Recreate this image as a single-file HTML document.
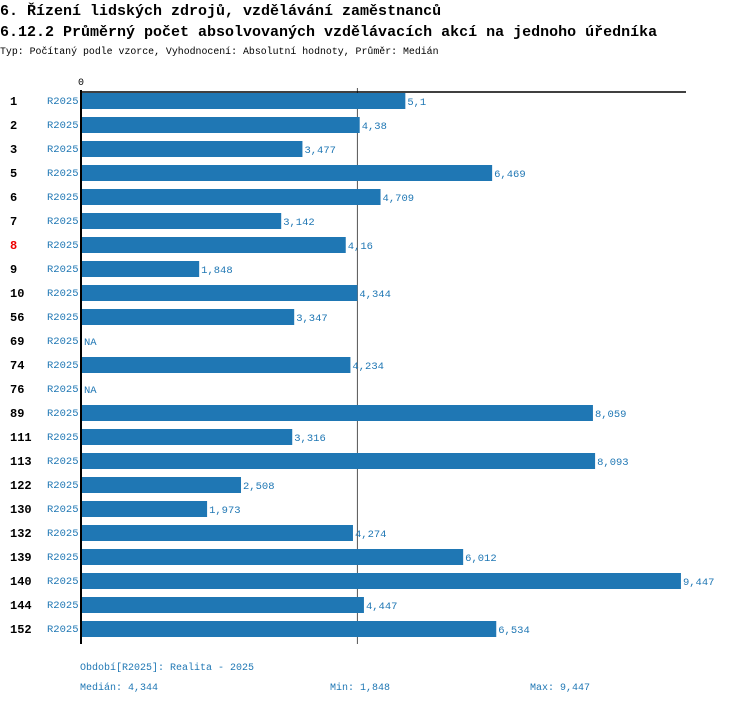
<!DOCTYPE html>
<html><head><meta charset="utf-8"><style>
body{margin:0;background:#fff;width:750px;height:704px;overflow:hidden;font-family:"Liberation Mono","DejaVu Sans Mono",monospace}
</style></head><body>
<svg width="750" height="704" font-family="Liberation Mono, DejaVu Sans Mono, monospace">
<text x="0" y="15" font-size="15" font-weight="bold" fill="#000">6. Řízení lidských zdrojů, vzdělávání zaměstnanců</text>
<text x="0" y="36" font-size="15" font-weight="bold" fill="#000">6.12.2 Průměrný počet absolvovaných vzdělávacích akcí na jednoho úředníka</text>
<text x="0" y="54" font-size="9.9" fill="#000">Typ: Počítaný podle vzorce, Vyhodnocení: Absolutní hodnoty, Průměr: Medián</text>
<text x="78" y="85" font-size="10" fill="#000">0</text>
<g id="plot"></g>
<line x1="81" y1="92" x2="686" y2="92" stroke="#000" stroke-width="1.5"/>
<line x1="81" y1="90" x2="81" y2="644" stroke="#000" stroke-width="2"/>
<text x="80" y="670" font-size="10" fill="#1f77b4">Období[R2025]: Realita - 2025</text>
<text x="80" y="690" font-size="10" fill="#1f77b4">Medián: 4,344</text>
<text x="330" y="690" font-size="10" fill="#1f77b4">Min: 1,848</text>
<text x="530" y="690" font-size="10" fill="#1f77b4">Max: 9,447</text>
</svg>
<script>
const categories=["1","2","3","5","6","7","8","9","10","56","69","74","76","89","111","113","122","130","132","139","140","144","152"];
const values=[5.1,4.38,3.477,6.469,4.709,3.142,4.16,1.848,4.344,3.347,null,4.234,null,8.059,3.316,8.093,2.508,1.973,4.274,6.012,9.447,4.447,6.534];
const valueLabels=["5,1","4,38","3,477","6,469","4,709","3,142","4,16","1,848","4,344","3,347","NA","4,234","NA","8,059","3,316","8,093","2,508","1,973","4,274","6,012","9,447","4,447","6,534"];
const highlighted=["8"];
const median=4.344;
const NS="http://www.w3.org/2000/svg";
const x0=82,scale=63.4,y0=100,step=24;
const xs=v=>x0+v*scale, ys=i=>y0+i*step;
const g=document.getElementById('plot');
function mk(t,a){const e=document.createElementNS(NS,t);for(const k in a)e.setAttribute(k,a[k]);g.appendChild(e);return e;}
const m=mk('line',{x1:xs(median),y1:88,x2:xs(median),y2:644,stroke:'#555','stroke-width':1});


categories.forEach((c,i)=>{
  const cy=ys(i);
  const l=mk('text',{x:10,y:cy+5,'font-size':12,'font-weight':'bold',fill:highlighted.includes(c)?'#e00':'#000'});
  l.textContent=c;
  
  
  const p=mk('text',{x:47,y:cy+4,'font-size':10.5,fill:'#1f77b4'});
  p.textContent='R2025';
  
  
  const v=values[i];
  let end=x0;
  if(v!=null){
    end=xs(v);
    const b=mk('rect',{x:x0,y:cy-7,width:end-x0,height:16,fill:'#1f77b4'});
    
    
  }
  const t=mk('text',{x:end+2,y:cy+5,'font-size':10.5,fill:'#1f77b4'});
  t.textContent=valueLabels[i];
  
  
});
</script>
</body></html>
